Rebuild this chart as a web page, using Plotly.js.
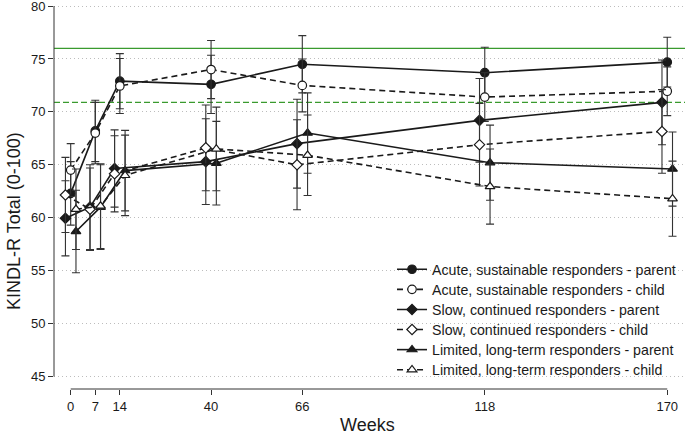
<!DOCTYPE html>
<html>
<head>
<meta charset="utf-8">
<script src="https://cdn.plot.ly/plotly-3.0.1.min.js"></script>
<style>html,body{margin:0;padding:0;background:#fff;}#chart{width:685px;height:435px;}</style>
</head>
<body>
<div id="chart"></div>
<script>
// ---- data ----
var weeks = [0, 7, 14, 40, 66, 118, 170];
var tickLabels = ['0', '7', '14', '40', '66', '118', '170'];
var yTicks = [45, 50, 55, 60, 65, 70, 75, 80];

var acuteParent    = [62.3, 68.2, 72.9, 72.6, 74.5, 73.7, 74.7];
var acuteParentErr = [3.0, 2.9, 2.6, 2.75, 2.7, 2.4, 2.35];
var acuteChild     = [64.5, 68.0, 72.45, 74.0, 72.5, 71.4, 71.95];
var acuteChildErr  = [2.5, 2.9, 2.6, 2.75, 2.5, 2.3, 2.3];

var slowParent     = [59.95, 61.0, 64.65, 65.3, 67.0, 69.2, 70.9];
var slowParentErr  = [3.55, 4.0, 3.65, 4.05, 4.2, 3.95, 4.0];
var slowChild      = [62.15, 60.8, 64.15, 66.6, 65.0, 66.9, 68.15];
var slowChildErr   = [3.55, 3.9, 3.6, 4.05, 4.25, 3.9, 3.95];

var limitedParent    = [58.7, 61.0, 64.45, 65.15, 68.0, 65.2, 64.6];
var limitedParentErr = [3.9, 4.0, 3.8, 3.95, 3.8, 3.55, 3.5];
var limitedChild     = [60.8, 61.1, 64.0, 66.5, 65.9, 62.95, 61.8];
var limitedChildErr  = [3.8, 4.0, 3.8, 3.95, 3.8, 3.55, 3.55];

var normParent = 76;   // solid green reference line
var normChild = 70.9;  // dashed green reference line

var seriesNames = [
  'Acute, sustainable responders - parent',
  'Acute, sustainable responders - child',
  'Slow, continued responders - parent',
  'Slow, continued responders - child',
  'Limited, long-term responders - parent',
  'Limited, long-term responders - child'
];

// ---- styling ----
var FONT = 'Liberation Sans, Arial, Helvetica, sans-serif';
var INK = '#1a1a1a';
var ERR = '#333333';
var PLOT_H = 389;

function shift(arr, d) { return arr.map(function (v) { return v + d; }); }

function makeTrace(idx, vals, errs, dx, symbol, filled, dashed, msize) {
  return {
    type: 'scatter',
    mode: 'lines+markers',
    name: seriesNames[idx],
    legend: idx === 0 ? 'legend' : 'legend' + (idx + 1),
    x: shift(weeks, dx),
    y: vals,
    line: { color: INK, width: 1.6, dash: dashed ? '6px,4px' : 'solid' },
    marker: {
      symbol: symbol,
      size: msize,
      color: filled ? INK : '#ffffff',
      line: { color: INK, width: 1.2 }
    },
    error_y: { type: 'data', array: errs, visible: true, color: ERR, thickness: 1.1, width: 4 },
    cliponaxis: false
  };
}

var data = [
  makeTrace(0, acuteParent, acuteParentErr, 0, 'circle', true, false, 8.5),
  makeTrace(1, acuteChild, acuteChildErr, 0, 'circle', false, true, 8.5),
  makeTrace(2, slowParent, slowParentErr, -1.5, 'diamond', true, false, 8),
  makeTrace(3, slowChild, slowChildErr, -1.5, 'diamond', false, true, 8),
  makeTrace(4, limitedParent, limitedParentErr, 1.5, 'triangle-up', true, false, 8.5),
  makeTrace(5, limitedChild, limitedChildErr, 1.5, 'triangle-up', false, true, 8.5)
];

var layout = {
  width: 685,
  height: 435,
  margin: { l: 54, r: 0, t: 0, b: 46 },
  paper_bgcolor: '#ffffff',
  plot_bgcolor: '#ffffff',
  font: { family: FONT, color: INK, size: 13 },
  showlegend: true,
  xaxis: {
    range: [-4.76, 175.06],
    tickmode: 'array',
    tickvals: weeks,
    ticktext: tickLabels,
    ticks: 'outside',
    ticklen: 5,
    tickcolor: '#333',
    tickwidth: 1,
    showgrid: false,
    zeroline: false,
    showline: false,
    tickfont: { family: FONT, size: 13, color: INK }
  },
  yaxis: {
    range: [43.82, 80.57],
    tickmode: 'array',
    tickvals: yTicks,
    ticks: 'outside',
    ticklen: 5,
    tickcolor: '#333',
    tickwidth: 1,
    ticklabeloverflow: 'allow',
    showgrid: true,
    gridcolor: '#bdbdbd',
    gridwidth: 1,
    griddash: '1px,3px',
    zeroline: false,
    showline: false,
    tickfont: { family: FONT, size: 13, color: INK }
  },
  shapes: [
    { type: 'line', layer: 'below', xref: 'paper', x0: 0, x1: 1, yref: 'y', y0: normParent, y1: normParent,
      line: { color: '#3a9a2e', width: 1.3 } },
    { type: 'line', layer: 'below', xref: 'paper', x0: 0, x1: 1, yref: 'y', y0: normChild, y1: normChild,
      line: { color: '#3a9a2e', width: 1.3, dash: '6px,3px' } },
    { type: 'line', xref: 'paper', x0: 0, x1: 0, yref: 'y', y0: yTicks[0], y1: yTicks[yTicks.length - 1],
      line: { color: '#333', width: 1 } },
    { type: 'line', xref: 'x', x0: weeks[0], x1: weeks[weeks.length - 1], yref: 'paper', y0: 0, y1: 0,
      line: { color: '#333', width: 1 } }
  ],
  annotations: [
    { text: 'KINDL-R Total (0-100)', xref: 'paper', yref: 'paper', x: -0.0634, y: 0.432,
      xanchor: 'center', yanchor: 'middle', textangle: -90, showarrow: false,
      font: { family: FONT, size: 18, color: INK } },
    { text: 'Weeks', xref: 'paper', yref: 'paper', x: 0.4976, y: -0.0925,
      xanchor: 'center', yanchor: 'middle', showarrow: false,
      font: { family: FONT, size: 18, color: INK } }
  ]
};

// one single-item legend per series, stacked 20 px apart
for (var i = 0; i < seriesNames.length; i++) {
  var key = i === 0 ? 'legend' : 'legend' + (i + 1);
  var centerPx = 269.5 + 20.1 * i;
  layout[key] = {
    x: 0.5357, xanchor: 'left',
    y: (PLOT_H - centerPx) / PLOT_H, yanchor: 'middle',
    bgcolor: 'rgba(0,0,0,0)',
    borderwidth: 0,
    font: { family: FONT, size: 14.2, color: INK }
  };
}

Plotly.newPlot('chart', data, layout, { staticPlot: true, displayModeBar: false });
</script>
</body>
</html>
